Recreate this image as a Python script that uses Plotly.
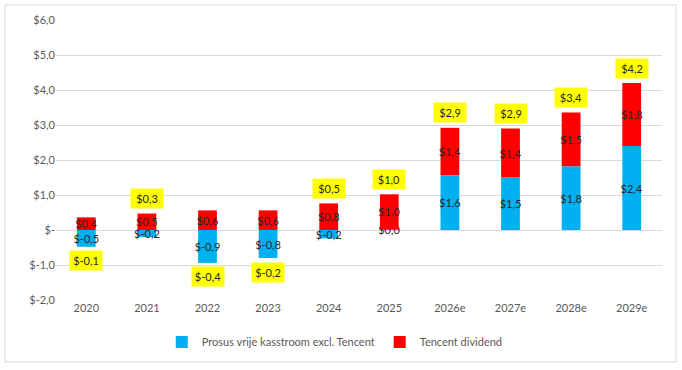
import plotly.graph_objects as go

categories = ["2020", "2021", "2022", "2023", "2024", "2025", "2026e", "2027e", "2028e", "2029e"]
prosus_fcf = [-0.48, -0.20, -0.94, -0.80, -0.24, 0.02, 1.56, 1.50, 1.82, 2.40]
tencent_div = [0.36, 0.47, 0.56, 0.56, 0.76, 1.00, 1.36, 1.40, 1.54, 1.80]
tick_vals = [-2, -1, 0, 1, 2, 3, 4, 5, 6]
tick_text = ["$-2,0", "$-1,0", "$-", "$1,0", "$2,0", "$3,0", "$4,0", "$5,0", "$6,0"]


def fmt(v):
    return "$" + f"{v:.1f}".replace(".", ",")


FONT = "Lato, 'Open Sans', sans-serif"
BLUE = "#00B0F0"
RED = "#FF0000"

fig = go.Figure(layout=dict(
    xaxis=dict(type="category", categoryorder="array", categoryarray=categories,
               range=[-0.5, len(categories) - 0.5],
               showgrid=False, showline=False, ticks="",
               tickfont=dict(size=11, color="#595959")),
    yaxis=dict(range=[-2, 6], tickvals=tick_vals, ticktext=tick_text, showgrid=True,
               gridcolor="#D9D9D9", gridwidth=1, zeroline=True, zerolinecolor="#D9D9D9",
               zerolinewidth=1, showline=False, ticks="",
               tickfont=dict(size=11, color="#595959")),
))
fig.add_trace(go.Bar(
    x=categories, y=prosus_fcf, name="Prosus vrije kasstroom excl. Tencent",
    marker=dict(color=BLUE, line=dict(width=0)),
    text=[fmt(v) for v in prosus_fcf], textposition="inside", insidetextanchor="middle",
    textangle=0, textfont=dict(color="#262626", size=11, family=FONT), cliponaxis=False,
))
fig.add_trace(go.Bar(
    x=categories, y=tencent_div, name="Tencent dividend",
    marker=dict(color=RED, line=dict(width=0)),
    text=[fmt(v) for v in tencent_div], textposition="inside", insidetextanchor="middle",
    textangle=0, textfont=dict(color="#262626", size=11, family=FONT), cliponaxis=False,
))

# category index position (numeric-looking category strings would be read as indices)
for i, (b, r) in enumerate(zip(prosus_fcf, tencent_div)):
    total = b + r
    pos_top = max(b, 0) + max(r, 0)
    neg_bot = min(b, 0) + min(r, 0)
    if total >= 0:
        y, shift = pos_top, 15
    else:
        y, shift = neg_bot, -14
    fig.add_annotation(
        x=i, y=y, yshift=shift, text=fmt(total), showarrow=False,
        bgcolor="#FFFF00", borderpad=3, width=26, height=13,
        font=dict(color="#262626", size=11, family=FONT), yanchor="middle",
    )

fig.add_shape(type="rect", xref="paper", yref="paper",
              x0=-0.084, x1=1.023, y0=-0.221, y1=1.054,
              line=dict(color="#D9D9D9", width=1), fillcolor="rgba(0,0,0,0)", layer="below")

fig.update_layout(
    width=682, height=370,
    margin=dict(l=56, r=20, t=20, b=70),
    barmode="relative", bargap=0.69,
    plot_bgcolor="white", paper_bgcolor="white",
    font=dict(family=FONT, size=11, color="#595959"),
    uniformtext=dict(minsize=11, mode="show"),
    legend=dict(orientation="h", x=0.46, y=-0.15, xanchor="center", yanchor="middle",
                font=dict(size=11, color="#595959")),
    showlegend=True,
)

fig.write_html("out.html", config={"displayModeBar": False},
               post_script="document.body.style.margin='0';")
